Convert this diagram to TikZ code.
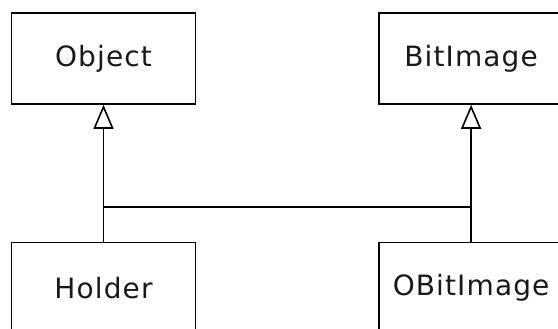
\documentclass[tikz,border=0pt]{standalone}
\usepackage{fontspec}
\setmainfont{DejaVu Sans}[LetterSpace=4]
\usetikzlibrary{shapes, arrows.meta, positioning}

\begin{document}
\begin{tikzpicture}[x=1pt, y=1pt, line width=1.6pt, font=\fontsize{28}{33}\selectfont]
    % Define styles
    \tikzstyle{classbox} = [draw, rectangle, minimum width=184pt, minimum height=91pt, inner sep=0pt, text=black!90]
    \tikzstyle{inherit} = [-{Triangle[open, length=24pt, width=20pt, line width=1.6pt]}]
    \tikzstyle{link} = [-]

    \useasboundingbox (0,0) rectangle (558,-329);

    % CLASSES
    \node (obj) [classbox] at (103.5,-58.5) {Object};
    \node (bitimg) [classbox, right=182pt of obj] {BitImage};
    \node (holder) [classbox, below=137pt of obj] {Holder};
    \node (obitimg) [classbox, below=137pt of bitimg] {OBitImage};

    % CONNECTIONS
    \coordinate (cross) at (0,-207);
    \draw[inherit] (holder) -- (obj);
    \draw[inherit] (obitimg) -- (bitimg);
    \draw[link] (holder |- cross) -- (obitimg |- cross);

\end{tikzpicture}
\end{document}
